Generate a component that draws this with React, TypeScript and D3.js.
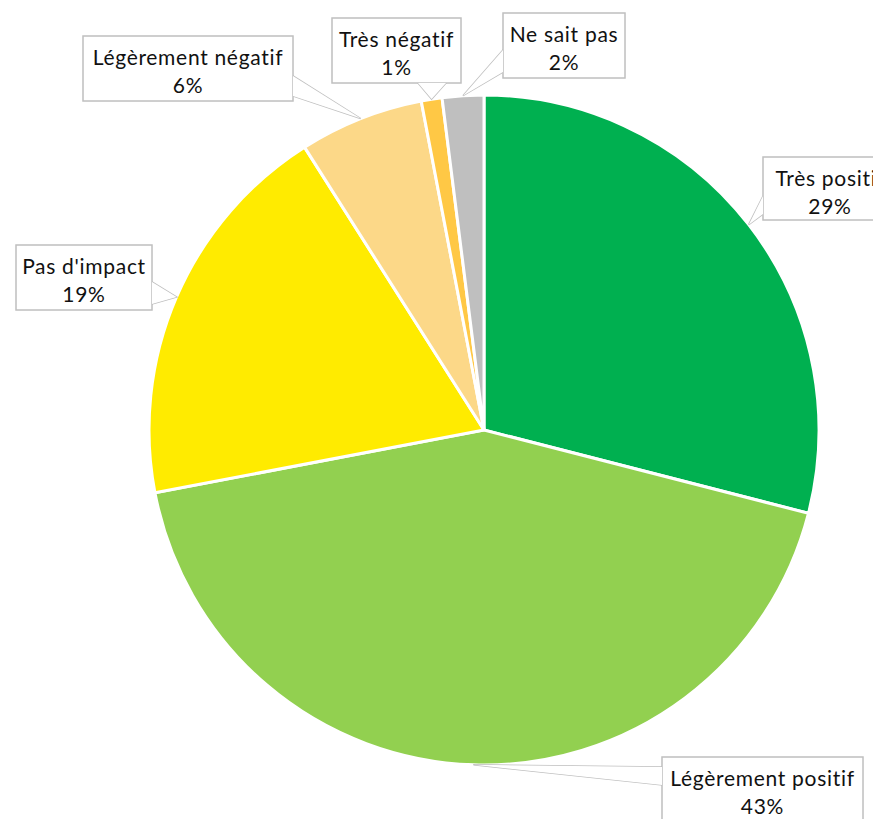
import React from "react";
import * as d3 from "d3";

const categories: string[] = [
  "Très positif",
  "Légèrement positif",
  "Pas d'impact",
  "Légèrement négatif",
  "Très négatif",
  "Ne sait pas",
];
const values: number[] = [29, 43, 19, 6, 1, 2];
const colors: string[] = [
  "#00b050",
  "#92d050",
  "#ffeb00",
  "#fcd888",
  "#ffc845",
  "#bfbfbf",
];

// callout boxes: position and which side the pointer leaves from
interface Callout {
  x: number;
  y: number;
  w: number;
  h: number;
  side: "left" | "right" | "bottom";
  b0: number;
  b1: number;
}
const callouts: Callout[] = [
  { x: 763, y: 157, w: 134, h: 63, side: "left", b0: 196, b1: 214 },
  { x: 662, y: 757, w: 201, h: 72, side: "left", b0: 767, b1: 785 },
  { x: 16, y: 245, w: 136, h: 65, side: "right", b0: 282, b1: 304 },
  { x: 83, y: 36, w: 210, h: 65, side: "right", b0: 76, b1: 96 },
  { x: 332, y: 18, w: 129, h: 65, side: "bottom", b0: 418, b1: 446 },
  { x: 503, y: 13, w: 122, h: 65, side: "left", b0: 50, b1: 72 },
];

const width = 873;
const height = 819;
const cx = 484;
const cy = 430;
const radius = 335;

const App: React.FC = () => {
  const pie = d3
    .pie<number>()
    .sort(null)
    .value((d) => d);
  const arcs = pie(values);
  const arc = d3
    .arc<d3.PieArcDatum<number>>()
    .innerRadius(0)
    .outerRadius(radius);
  const edge = d3
    .arc<d3.PieArcDatum<number>>()
    .innerRadius(radius)
    .outerRadius(radius);
  const total = d3.sum(values);

  const wedge = (c: Callout, tip: [number, number]) => {
    let p0: [number, number];
    let p1: [number, number];
    if (c.side === "left") {
      p0 = [c.x, c.b0];
      p1 = [c.x, c.b1];
    } else if (c.side === "right") {
      p0 = [c.x + c.w, c.b0];
      p1 = [c.x + c.w, c.b1];
    } else {
      p0 = [c.b0, c.y + c.h];
      p1 = [c.b1, c.y + c.h];
    }
    return { p0, p1, tip };
  };

  return (
    <svg
      width={width}
      height={height}
      style={{ position: "absolute", left: 0, top: 0, display: "block", background: "#fff" }}
      fontFamily="Lato, 'Open Sans', sans-serif"
    >
      <g transform={`translate(${cx},${cy})`}>
        {arcs.map((d, i) => (
          <path
            key={i}
            d={arc(d) || ""}
            fill={colors[i]}
            stroke="#fff"
            strokeWidth={3}
          />
        ))}
      </g>
      {arcs.map((d, i) => {
        const c = callouts[i];
        const [tx, ty] = edge.centroid(d);
        const w = wedge(c, [tx + cx, ty + cy]);
        const tri = `M${w.p0[0]},${w.p0[1]}L${w.tip[0]},${w.tip[1]}L${w.p1[0]},${w.p1[1]}`;
        const pct = Math.round((d.data / total) * 100);
        const mid = c.x + c.w / 2;
        return (
          <g key={i}>
            <path d={tri + "Z"} fill="#fff" stroke="#bfbfbf" strokeWidth={1.5} />
            <rect
              x={c.x}
              y={c.y}
              width={c.w}
              height={c.h}
              fill="#fff"
              stroke="#bfbfbf"
              strokeWidth={1.5}
            />
            <path d={tri + "Z"} fill="#fff" stroke="none" />
            <text
              x={mid}
              y={c.y + 29}
              textAnchor="middle"
              fontSize={21}
              letterSpacing={0.7}
              fill="#111"
            >
              {categories[i]}
            </text>
            <text
              x={mid}
              y={c.y + 57}
              textAnchor="middle"
              fontSize={21}
              letterSpacing={0.7}
              fill="#111"
            >
              {pct}%
            </text>
          </g>
        );
      })}
    </svg>
  );
};

export default App;
